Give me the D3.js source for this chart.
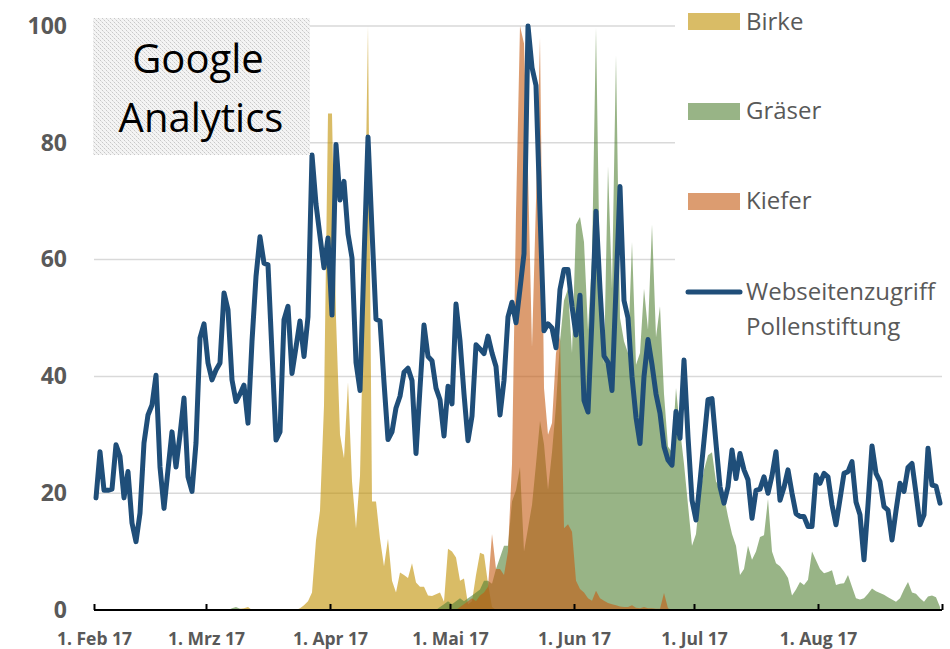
<!DOCTYPE html>
<html>
<head>
<meta charset="utf-8">
<script src="https://cdn.jsdelivr.net/npm/d3@7"></script>
<style>
html,body{margin:0;padding:0;background:#fff;}
svg{display:block;}
</style>
</head>
<body>
<svg id="chart" width="950" height="649"></svg>
<script>
// ---- data (daily, 1 Feb 2017 .. 31 Aug 2017) ----
const startDay = "2017-02-01";
const monthLabels = ["1. Feb 17","1. Mrz 17","1. Apr 17","1. Mai 17","1. Jun 17","1. Jul 17","1. Aug 17",""];
const yTicks = [0,20,40,60,80,100];
const seriesNames = ["Birke","Gräser","Kiefer","Webseitenzugriff Pollenstiftung"];

const webseitenzugriff = [
19.2,27.1,20.5,20.5,20.7,28.3,26.3,19.2,23.7,14.9,11.7,16.6,28.6,33.4,35.1,40.2,24.5,17.4,24,30.5,
24.5,30,36.3,22.8,20.3,28.6,46.6,49.0,42.3,39.4,41.1,42.3,54.3,51.4,39.4,35.7,37,38.5,32,46,
57.1,63.9,59.4,59.1,44,29.1,30.5,49.7,52,40.5,45,49.5,43.4,50.2,77.9,69.5,64,58.6,63.7,50.5,
79.7,70.2,73.4,64.4,60.3,42.4,37.6,60,81,65,49.8,49.5,39,29.2,30.5,34.6,36.6,40.7,41.4,39.3,
26.8,38,48.8,43.4,42.7,38,36,29.8,38.3,35.3,52.4,46.1,37,29,33.2,45.4,44.7,43.9,46.9,44,
41.7,33.4,39.3,50.2,52.7,49.2,55,61,100,92.9,89.8,68,47.8,49,48.3,44.9,54.9,58.3,58.3,52,
47.1,53.9,35.9,33.9,50,68.3,55,43.5,42.4,37.6,55,72.5,53,50,40,33,28.5,40,46.3,42,
37,33.7,28,25.7,24.8,34,29.4,42.8,29.7,18.8,15.4,22,29,36,36.2,28.5,21.1,18.3,21.1,27.4,
22.5,26.8,24,22.3,15.7,20.5,20.7,22.8,20,23,27.1,18.8,21,24,20,16.5,16,16,14.3,14.3,
23.1,21.7,23.4,22.8,18,14.6,19,23.4,23.7,25.4,18.5,16.3,8.6,18,28.1,23.4,22,17.7,17.1,12,
17,21.7,20.3,24.4,25.1,20,14.6,16.3,27.7,21.4,21.2,18.3
];

const birke = [
0,0,0,0,0,0,0,0,0,0,0,0,0,0,0,0,0,0,0,0,
0,0,0,0,0,0,0,0,0,0,0,0,0,0,0,0,0.2,0.3,0.5,0,
0,0,0,0,0,0,0,0,0,0,0,0.3,0.8,1.5,3,12,17,35,85,85,
50,30,26,39,22,14,23,55,100,18.6,18.6,12.2,7.5,12.2,5,3,6.4,6,5.5,8,
4.7,4,4,2.5,2.4,2.7,3,1.4,10.5,10,9,5,5.4,1,1.5,6,9.8,9.5,4.5,0.5,
0,0,0,0,0,0,0,0,0,0,0,0,0,0,0,0,0,0,0,0,
0,0,0,0,0,0,0,0,0,0,0,0,0,0,0,0,0,0,0,0,
0,0,0,0,0,0,0,0,0,0,0,0,0,0,0,0,0,0,0,0,
0,0,0,0,0,0,0,0,0,0,0,0,0,0,0,0,0,0,0,0,
0,0,0,0,0,0,0,0,0,0,0,0,0,0,0,0,0,0,0,0,
0,0,0,0,0,0,0,0,0,0,0,0
];

const graeser = [
0,0,0,0,0,0,0,0,0,0,0,0,0,0,0,0,0,0,0,0,
0,0,0,0,0,0,0,0,0,0,0,0,0,0,0.3,0.5,0.2,0,0,0,
0,0,0,0,0,0,0,0,0,0,0,0,0,0,0,0,0,0,0,0,
0,0,0,0,0,0,0,0,0,0,0,0,0,0,0,0,0,0,0,0,
0,0,0,0,0,0,0.5,1,1.5,1,1.5,2,1.5,2,2.5,3,3.5,5,5,4.5,
7,9,11,11,18.6,20.5,24.5,10,14,18,25,32.4,28.4,20.6,27,35,46,53,55,44,
66,67.3,63,48,60,99.7,55,42,76,55,95,50,46,44,63,42,44,55,48,66,
46.7,52,37,28,27,38,31,25,18,11,13,20,24,26.5,27,22,21,19.5,16,13,
11,6,7,11,8.6,10,12.5,12.8,19,10,8,7.5,6.6,5.5,2.5,3.5,4.8,4.3,5.2,10,
8.5,7,6.3,6.5,6.8,4.3,4.5,4.6,6,4,2,1.8,2,2.8,3.7,3.2,2.9,2.6,2.2,1.8,
1.4,2,3.5,4.8,3,2.8,2,1.4,2.3,2.5,2.2,0.5
];

const kiefer = [
0,0,0,0,0,0,0,0,0,0,0,0,0,0,0,0,0,0,0,0,
0,0,0,0,0,0,0,0,0,0,0,0,0,0,0,0,0,0,0,0,
0,0,0,0,0,0,0,0,0,0,0,0,0,0,0,0,0,0,0,0,
0,0,0,0,0,0,0,0,0,0,0,0,0,0,0,0,0,0,0,0,
0,0,0,0,0,0,0,0,0,0,0,0.5,1,1.5,2,1.5,2.5,3,4,13,
7,7,6,10,25,68,100,97,75,45,70,98,38,30,32,44,47,14,14.7,13.4,
5,3.6,3,2,1.6,3.3,2,1.6,1.2,1,0.8,0.6,0.5,0.5,0.8,0.4,0.3,0.5,0.3,0.3,
0.2,0.2,2.9,0.3,0,0,0,0,0,0,0,0,0,0,0,0,0,0,0,0,
0,0,0,0,0,0,0,0,0,0,0,0,0,0,0,0,0,0,0,0,
0,0,0,0,0,0,0,0,0,0,0,0,0,0,0,0,0,0,0,0,
0,0,0,0,0,0,0,0,0,0,0,0
];

// ---- setup ----
const svg = d3.select("#chart");
const t0 = new Date(startDay + "T00:00:00Z");
const dates = webseitenzugriff.map((_, i) => d3.utcHour.offset(d3.utcDay.offset(t0, i), 12));
const x = d3.scaleUtc().domain([t0, new Date("2017-09-01T00:00:00Z")]).range([94, 942]);
const y = d3.scaleLinear().domain([0, 100]).range([610, 26]);

const labelFont = "'Open Sans', 'DejaVu Sans', sans-serif";
const gray = "#595959";

// pattern for the Google Analytics box
const defs = svg.append("defs");
const pat = defs.append("pattern").attr("id","dots").attr("width",4).attr("height",4)
  .attr("patternUnits","userSpaceOnUse");
pat.append("rect").attr("width",4).attr("height",4).attr("fill","#f4f4f4");
pat.append("rect").attr("x",0).attr("y",0).attr("width",1).attr("height",1).attr("fill","#c8c8c8");
pat.append("rect").attr("x",2).attr("y",2).attr("width",1).attr("height",1).attr("fill","#c8c8c8");
pat.append("rect").attr("x",1).attr("y",1).attr("width",1).attr("height",1).attr("fill","#e0e0e0");
pat.append("rect").attr("x",3).attr("y",3).attr("width",1).attr("height",1).attr("fill","#e0e0e0");

// gridlines
svg.append("g").selectAll("line").data(yTicks.filter(v => v > 0)).join("line")
  .attr("x1", 94).attr("x2", 942)
  .attr("y1", d => y(d)).attr("y2", d => y(d))
  .attr("stroke", "#d9d9d9").attr("stroke-width", 1.5);

// areas
const areaGen = d3.area().x((d, i) => x(dates[i])).y0(y(0)).y1(d => y(d));
const areas = [
  {vals: birke, color: "#bf9000"},
  {vals: graeser, color: "#548235"},
  {vals: kiefer, color: "#c55a11"}
];
svg.append("g").selectAll("path").data(areas).join("path")
  .attr("d", d => areaGen(d.vals))
  .attr("fill", d => d.color).attr("fill-opacity", 0.6);

// x axis
const monthTicks = d3.utcMonth.range(t0, new Date("2017-09-02T00:00:00Z"));
const xAxis = d3.axisBottom(x).tickValues(monthTicks).tickSize(-6).tickPadding(23)
  .tickFormat((d, i) => monthLabels[i]);
const gx = svg.append("g").attr("transform", "translate(0,610)").call(xAxis);
gx.select(".domain").attr("stroke", "#000").attr("stroke-width", 2.2).attr("d", "M94,0H942");
gx.selectAll(".tick line").attr("stroke", "#000").attr("stroke-width", 2);
gx.selectAll(".tick text").attr("font-family", labelFont).attr("font-size", 17.5)
  .attr("font-weight", "bold").attr("fill", gray);

// y axis
const yAxis = d3.axisLeft(y).tickValues(yTicks).tickSize(0).tickPadding(27).tickFormat(d3.format("d"));
const gy = svg.append("g").attr("transform", "translate(94,0)").call(yAxis);
gy.select(".domain").remove();
gy.selectAll(".tick text").attr("font-family", labelFont).attr("font-size", 23)
  .attr("font-weight", "bold").attr("fill", gray);

// legend background
svg.append("rect").attr("x", 675).attr("y", 0).attr("width", 275).attr("height", 345).attr("fill", "#fff");

// line
const lineGen = d3.line().x((d, i) => x(dates[i])).y(d => y(d));
svg.append("path").attr("d", lineGen(webseitenzugriff))
  .attr("fill", "none").attr("stroke", "#1f4e79").attr("stroke-width", 5)
  .attr("stroke-linejoin", "round").attr("stroke-linecap", "round");

// Google Analytics box
svg.append("rect").attr("x", 93).attr("y", 18).attr("width", 217).attr("height", 137).attr("fill", "url(#dots)");
svg.append("text").attr("x", 198).attr("y", 73).attr("text-anchor", "middle")
  .attr("font-family", labelFont).attr("font-size", 40).attr("fill", "#000").text("Google");
svg.append("text").attr("x", 201).attr("y", 132).attr("text-anchor", "middle")
  .attr("font-family", labelFont).attr("font-size", 40).attr("fill", "#000").text("Analytics");

// legend
const legItems = [
  {name: seriesNames[0], color: "#bf9000", ys: 13, ty: 30},
  {name: seriesNames[1], color: "#548235", ys: 103, ty: 119},
  {name: seriesNames[2], color: "#c55a11", ys: 193, ty: 209}
];
const lg = svg.append("g");
lg.selectAll("rect").data(legItems).join("rect")
  .attr("x", 688).attr("y", d => d.ys).attr("width", 52).attr("height", 17)
  .attr("fill", d => d.color).attr("fill-opacity", 0.6);
lg.selectAll("text.li").data(legItems).join("text").attr("class","li")
  .attr("x", 746).attr("y", d => d.ty).attr("font-family", labelFont).attr("font-size", 24)
  .attr("fill", gray).text(d => d.name);
lg.append("line").attr("x1", 688).attr("x2", 740).attr("y1", 292).attr("y2", 292)
  .attr("stroke", "#1f4e79").attr("stroke-width", 5).attr("stroke-linecap", "round");
const wl = seriesNames[3].split(" ");
lg.append("text").attr("x", 746).attr("y", 300).attr("font-family", labelFont).attr("font-size", 24)
  .attr("fill", gray).text(wl[0]);
lg.append("text").attr("x", 746).attr("y", 335).attr("font-family", labelFont).attr("font-size", 24)
  .attr("fill", gray).text(wl[1]);
</script>
</body>
</html>
